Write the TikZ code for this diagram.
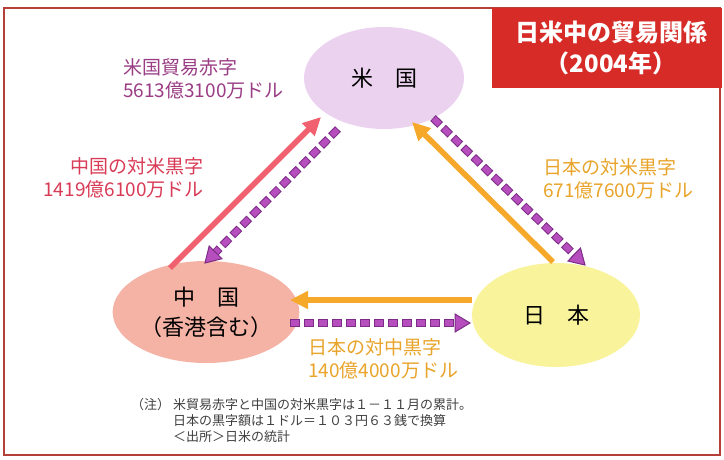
\documentclass[tikz,border=0pt]{standalone}
\usepackage{fontspec}
\setmainfont{Noto Sans CJK JP}
\usetikzlibrary{shapes.geometric,arrows.meta,calc}
\definecolor{usc}{HTML}{EBD3F0}
\definecolor{cnc}{HTML}{F5B3A5}
\definecolor{jpc}{HTML}{F9F49C}
\definecolor{redc}{HTML}{F0606E}
\definecolor{orac}{HTML}{F6A82A}
\definecolor{pfill}{HTML}{B64EBE}
\definecolor{pline}{HTML}{7C2C86}
\definecolor{usdefc}{HTML}{9A3D85}
\definecolor{cnsurc}{HTML}{D93A55}
\definecolor{jpsurc}{HTML}{E9A42A}
\definecolor{notec}{HTML}{404040}
\definecolor{titlec}{HTML}{D62B27}
\definecolor{framec}{HTML}{B5403A}
\newcommand\pdarrow[2]{%
  \coordinate (#1-#2-b) at ($(#2)!15pt!(#1)$);
  \draw[pdout] (#1) -- (#1-#2-b);
  \draw[pdin] (#1) -- (#1-#2-b);
  \draw[ptip] (#2) -- ($(#1-#2-b)!9pt!90:(#2)$) -- ($(#1-#2-b)!9pt!-90:(#2)$) -- cycle;
}
\begin{document}
\begin{tikzpicture}[x=1pt,y=-1pt,
  ell/.style={ellipse, inner sep=0pt, text=black, font=\fontsize{22}{30}\selectfont, align=center},
  lab/.style={inner sep=0pt, font=\fontsize{19}{23}\selectfont},
  pdout/.style={draw=pline, line width=8pt, dash pattern=on 10pt off 4pt},
  pdin/.style={draw=pfill, line width=6pt, dash pattern=on 8pt off 6pt, dash phase=13pt},
  ptip/.style={draw=pline, fill=pfill, line width=1pt, line join=miter},
  solidarr/.style={line width=5.5pt, -{Triangle[length=18pt,width=17pt]}},
  titlebox/.style={fill=titlec, minimum width=230pt, minimum height=80pt, inner sep=0pt},
]
\useasboundingbox (0,0) rectangle (724,459);
\fill[white] (0,0) rectangle (724,459);
\draw[framec, line width=1.5pt] (4,8) rectangle (720,455);
\node[titlebox] (tbox) at (607,48) {};
\node[inner sep=0pt, text=white, align=center, font=\fontsize{24}{31}\selectfont\bfseries] (title) at (611,48) {日米中の貿易関係\\（2004年）};

\node[ell, fill=usc, minimum width=160pt, minimum height=102pt] (us) at (384,78) {米　国};
\node[ell, fill=cnc, minimum width=174pt, minimum height=102pt] (cn) at (206,312) {中　国\\（香港含む）};
\node[ell, fill=jpc, minimum width=168pt, minimum height=104pt] (jp) at (556,315) {日　本};

\node[lab, anchor=west, align=left, text=usdefc] (usdef) at (123,79) {米国貿易赤字\\5613億3100万ドル};
\node[lab, anchor=east, align=right, text=cnsurc] (cnsur) at (204,178) {中国の対米黒字\\1419億6100万ドル};
\node[lab, anchor=west, align=left, text=jpsurc] (jpsur) at (543,179) {日本の対米黒字\\671億7600万ドル};
\node[lab, anchor=west, align=left, text=jpsurc] (jpcn) at (308,359) {日本の対中黒字\\140億4000万ドル};

\coordinate (r1) at (170,268);
\coordinate (r2) at (321,117);
\coordinate (o1) at (553,262);
\coordinate (o2) at (412,122);
\coordinate (o3) at (472,300);
\coordinate (o4) at (290,300);
\coordinate (p1) at (338,129);
\coordinate (p2) at (205,263);
\coordinate (p3) at (433,118);
\coordinate (p4) at (585,265);
\coordinate (p5) at (290,323);
\coordinate (p6) at (470,323);

\draw[solidarr, draw=redc, fill=redc] (r1) -- (r2);
\draw[solidarr, draw=orac, fill=orac] (o1) -- (o2);
\draw[solidarr, draw=orac, fill=orac] (o3) -- (o4);
\pdarrow{p1}{p2}
\pdarrow{p3}{p4}
\pdarrow{p5}{p6}

\node[inner sep=0pt, anchor=west, text=notec, font=\fontsize{13}{16}\selectfont] (notehead) at (131,405) {（注）};
\node[inner sep=0pt, anchor=west, align=left, text=notec, font=\fontsize{13}{16}\selectfont] (note) at (173,421) {米貿易赤字と中国の対米黒字は１－１１月の累計。\\日本の黒字額は１ドル＝１０３円６３銭で換算\\＜出所＞日米の統計};
\end{tikzpicture}
\end{document}
